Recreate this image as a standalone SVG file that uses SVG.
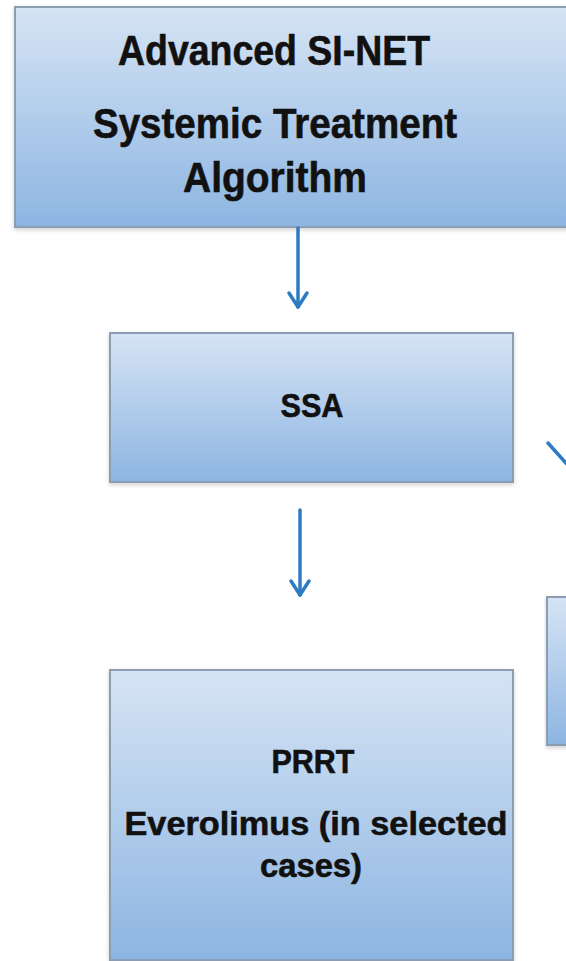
<svg xmlns="http://www.w3.org/2000/svg" width="566" height="961" viewBox="0 0 566 961">
<defs>
<linearGradient id="boxGrad" x1="0" y1="0" x2="0" y2="1">
<stop offset="0" stop-color="#d6e4f4"/>
<stop offset="1" stop-color="#8db5e2"/>
</linearGradient>
<filter id="sh" x="-5%" y="-5%" width="110%" height="115%">
<feDropShadow dx="0" dy="2" stdDeviation="2" flood-color="#000" flood-opacity="0.18"/>
</filter>
</defs>
<style>
.box{fill:url(#boxGrad);stroke:#8b9db3;stroke-width:2;filter:url(#sh)}
.t{font-family:"Liberation Sans",Arial,sans-serif;font-weight:bold;fill:#111;stroke:#111;stroke-width:0.6;text-anchor:middle}
.conn{stroke:#2e7bc4;stroke-width:3.5;fill:none;stroke-linecap:round;stroke-linejoin:round}
</style>
<g id="node-top">
<rect class="box" x="15" y="7" width="600" height="220"/>
<text class="t" x="274" y="65" font-size="42" textLength="312" lengthAdjust="spacingAndGlyphs">Advanced SI-NET</text>
<text class="t" x="275" y="138" font-size="42" textLength="364" lengthAdjust="spacingAndGlyphs">Systemic Treatment</text>
<text class="t" x="275" y="192" font-size="42" textLength="184" lengthAdjust="spacingAndGlyphs">Algorithm</text>
</g>
<g id="node-ssa">
<rect class="box" x="110" y="333" width="403" height="149"/>
<text class="t" x="312" y="417" font-size="34" textLength="63" lengthAdjust="spacingAndGlyphs">SSA</text>
</g>
<g id="node-prrt">
<rect class="box" x="110" y="670" width="403" height="290"/>
<text class="t" x="313" y="773" font-size="33" textLength="83" lengthAdjust="spacingAndGlyphs">PRRT</text>
<text class="t" x="316" y="835" font-size="34" textLength="383" lengthAdjust="spacingAndGlyphs">Everolimus (in selected</text>
<text class="t" x="311" y="877" font-size="34" textLength="102" lengthAdjust="spacingAndGlyphs">cases)</text>
</g>
<g id="node-right">
<rect class="box" x="547" y="597" width="60" height="148"/>
</g>
<g id="connectors">
<line class="conn" x1="298" y1="228" x2="298" y2="307"/>
<polyline class="conn" points="289,293 298,307 307,293"/>
<line class="conn" x1="300" y1="510" x2="300" y2="595"/>
<polyline class="conn" points="291,581 300,595 309,581"/>
<line class="conn" x1="548" y1="443" x2="590" y2="490"/>
</g>
</svg>
